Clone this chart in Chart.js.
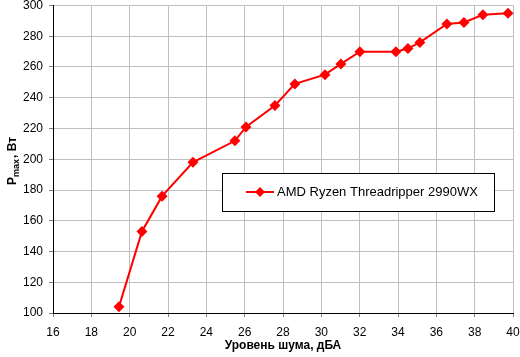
<!DOCTYPE html>
<html>
<head>
<meta charset="utf-8">
<script src="https://cdn.jsdelivr.net/npm/chart.js@4"></script>
<style>
  html, body { margin: 0; padding: 0; background: #ffffff; }
  #wrap { width: 520px; height: 357px; }
</style>
</head>
<body>
<div id="wrap"><canvas id="noiseChart" width="520" height="357"></canvas></div>
<script>
// noise level (dBA) vs max dissipated power (W)
const noiseLevels = [19.44, 20.64, 21.69, 23.3, 25.49, 26.07, 27.58, 28.62, 30.19, 31.02, 32.01, 33.89, 34.52, 35.14, 36.55, 37.44, 38.43, 39.74];
const powerMax = [104, 153, 176, 198, 212, 221, 235, 249, 255, 262, 270, 270, 272, 276, 288, 289, 294, 295];
const seriesLabel = 'AMD Ryzen Threadripper 2990WX';
const xTitle = 'Уровень шума, дБА';
const yTitleMain = 'P';
const yTitleSub = 'max';
const yTitleRest = ', Вт';

const fontFamily = '"Liberation Sans", Arial, sans-serif';

// legend box inside the plot + rotated y title with subscript
const decorPlugin = {
    id: 'decor',
    afterDraw(chart) {
        const ctx = chart.ctx;
        const ds = chart.data.datasets[0];

        // legend
        ctx.save();
        ctx.fillStyle = '#ffffff';
        ctx.fillRect(222, 173, 272, 38);
        ctx.strokeStyle = '#000000';
        ctx.lineWidth = 1;
        ctx.strokeRect(222.5, 173.5, 272, 38);
        ctx.strokeStyle = ds.borderColor;
        ctx.lineWidth = 2;
        ctx.beginPath();
        ctx.moveTo(246, 192);
        ctx.lineTo(274, 192);
        ctx.stroke();
        ctx.fillStyle = ds.borderColor;
        ctx.beginPath();
        ctx.moveTo(260, 187);
        ctx.lineTo(265, 192);
        ctx.lineTo(260, 197);
        ctx.lineTo(255, 192);
        ctx.closePath();
        ctx.fill();
        ctx.fillStyle = '#000000';
        ctx.font = '13px ' + fontFamily;
        ctx.textBaseline = 'middle';
        ctx.textAlign = 'left';
        ctx.fillText(ds.label, 277, 192);
        ctx.restore();

        // y axis title
        ctx.save();
        ctx.translate(16, 161);
        ctx.rotate(-Math.PI / 2);
        ctx.fillStyle = '#000000';
        ctx.textBaseline = 'alphabetic';
        ctx.textAlign = 'left';
        const bigFont = 'bold 12px ' + fontFamily;
        const smallFont = 'bold 9px ' + fontFamily;
        ctx.font = bigFont;
        const w1 = ctx.measureText(yTitleMain).width;
        const w3 = ctx.measureText(yTitleRest).width;
        ctx.font = smallFont;
        const w2 = ctx.measureText(yTitleSub).width + 1;
        let x = -(w1 + w2 + w3) / 2;
        ctx.font = bigFont;
        ctx.fillText(yTitleMain, x, 0);
        x += w1;
        ctx.font = smallFont;
        ctx.fillText(yTitleSub, x, 3);
        x += w2;
        ctx.font = bigFont;
        ctx.fillText(yTitleRest, x, 0);
        ctx.restore();

        // x axis title
        ctx.save();
        ctx.fillStyle = '#000000';
        ctx.font = 'bold 12px ' + fontFamily;
        ctx.textAlign = 'center';
        ctx.textBaseline = 'middle';
        ctx.fillText(xTitle, 283, 346);
        ctx.restore();
    }
};

const bgPlugin = {
    id: 'bg',
    beforeDraw(chart) {
        const ctx = chart.ctx;
        ctx.save();
        ctx.fillStyle = '#ffffff';
        ctx.fillRect(0, 0, chart.width, chart.height);
        ctx.restore();
    }
};

const ctx = document.getElementById('noiseChart').getContext('2d');
const noiseChart = new Chart(ctx, {
    type: 'line',
    data: {
        datasets: [
            {
                label: seriesLabel,
                data: noiseLevels.map((n, i) => ({ x: n, y: powerMax[i] })),
                borderColor: '#ff0000',
                backgroundColor: '#ff0000',
                borderWidth: 2,
                tension: 0,
                fill: false,
                pointStyle: 'rectRot',
                pointRadius: 5.5,
                pointHoverRadius: 5.5,
                pointBorderWidth: 0,
                clip: false,
            },
        ],
    },
    options: {
        responsive: false,
        animation: false,
        devicePixelRatio: 1,
        layout: {
            padding: { top: 5, right: 7, left: 0, bottom: 0 },
        },
        plugins: {
            legend: { display: false },
            tooltip: { enabled: false },
        },
        scales: {
            x: {
                type: 'linear',
                min: 16,
                max: 40,
                ticks: {
                    stepSize: 2,
                    color: '#000000',
                    font: { family: fontFamily, size: 12 },
                    padding: 8,
                    maxRotation: 0,
                },
                grid: {
                    color: '#c0c0c0',
                    tickLength: 4,
                    tickColor: '#808080',
                },
                border: { color: '#000000', width: 1 },
                afterFit: (scale) => {
                    scale.height = 44;
                    scale.paddingLeft = 0;
                    scale.paddingRight = 0;
                },
            },
            y: {
                min: 100,
                max: 300,
                ticks: {
                    stepSize: 20,
                    color: '#000000',
                    font: { family: fontFamily, size: 12 },
                    padding: 6,
                },
                grid: {
                    color: '#c0c0c0',
                    tickLength: 4,
                    tickColor: '#808080',
                },
                border: { color: '#000000', width: 1 },
                afterFit: (scale) => {
                    scale.width = 53;
                    scale.paddingTop = 0;
                    scale.paddingBottom = 0;
                },
            },
        },
    },
    plugins: [bgPlugin, decorPlugin],
});
</script>
</body>
</html>
